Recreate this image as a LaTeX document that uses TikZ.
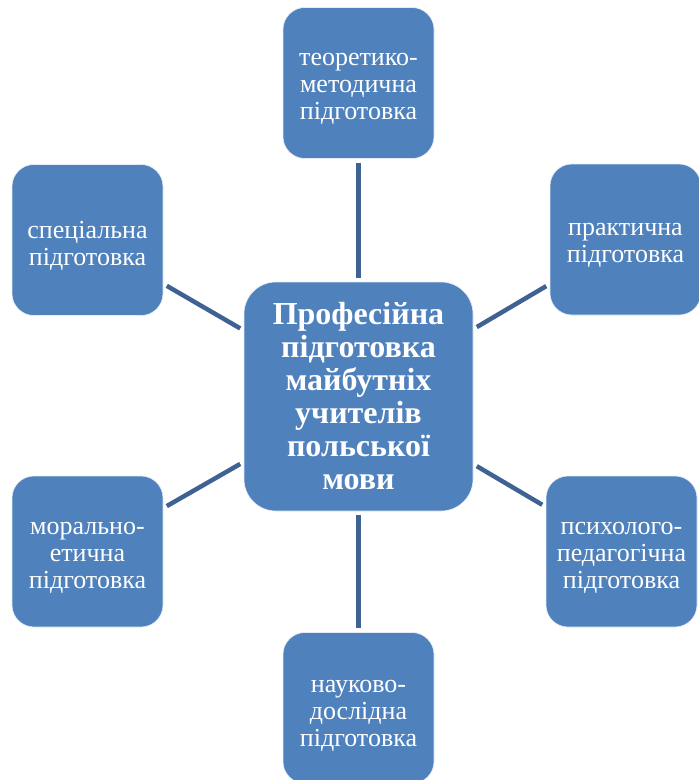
\documentclass[tikz,border=0pt]{standalone}
\usepackage{fontspec}
\setmainfont{Liberation Serif}
\begin{document}
\begin{tikzpicture}[x=1pt,y=-1pt,
  box/.style={draw=white!85!boxblue, line width=0.6pt, fill=boxblue, rounded corners=22pt, text=white, align=center, inner sep=0pt},
  outer/.style={box, minimum width=151pt, minimum height=151pt},
  lbl/.style={text=white, align=center, inner sep=0pt, font=\fontsize{26}{27}\selectfont},
  hub/.style={box, minimum width=229pt, minimum height=229pt, rounded corners=32pt, font=\fontsize{32}{33}\selectfont\bfseries},
  link/.style={draw=linkblue, line width=4.5pt, shorten >=4pt, shorten <=4pt}]
\definecolor{boxblue}{RGB}{79,129,189}
\definecolor{linkblue}{RGB}{62,98,145}
\useasboundingbox (0,0) rectangle (699,780);
\begin{scope}
\clip (0,0) rectangle (699,780);
\node[hub] (c) at (358.5,396.5) {Професійна\\підготовка\\майбутніх\\учителів\\польської\\мови};
\node[outer] (t) at (358.5,83) {};
\node[outer] (tr) at (625.5,239.5) {};
\node[outer] (tl) at (87.5,240) {};
\node[outer] (bl) at (87.5,551.5) {};
\node[outer] (br) at (621.5,551.5) {};
\node[outer] (b) at (358.5,708) {};
\node[lbl] (t-text) at ([yshift=-6pt]t.center) {теоретико-\\методична\\підготовка};
\node[lbl] (tr-text) at ([yshift=-6pt]tr.center) {практична\\підготовка};
\node[lbl] (tl-text) at ([yshift=-6pt]tl.center) {спеціальна\\підготовка};
\node[lbl] (bl-text) at ([yshift=-6pt]bl.center) {морально-\\етична\\підготовка};
\node[lbl] (br-text) at ([yshift=-6pt]br.center) {психолого-\\педагогічна\\підготовка};
\node[lbl] (b-text) at ([yshift=-8pt]b.center) {науково-\\дослідна\\підготовка};
\draw[link] (t) -- (c);
\draw[link] (c) -- (b);
\draw[link] (tl) -- (c);
\draw[link] (tr) -- (c);
\draw[link] (bl) -- (c);
\draw[link] (br) -- (c);
\end{scope}
\end{tikzpicture}
\end{document}
